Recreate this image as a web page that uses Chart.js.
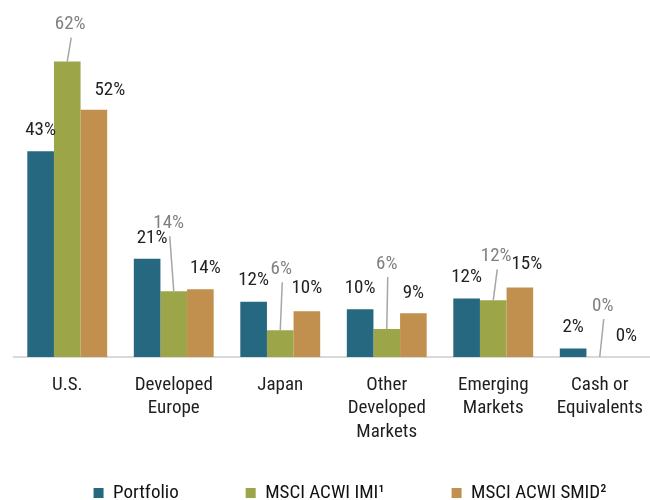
<!DOCTYPE html>
<html>
<head>
<meta charset="utf-8">
<script src="https://cdn.jsdelivr.net/npm/chart.js@4"></script>
<style>
  html, body { margin:0; padding:0; background:#fff; overflow:hidden; }
  #wrap { width:650px; height:500px; overflow:hidden; }
</style>
</head>
<body>
<div id="wrap"><canvas id="chart" width="700" height="540"></canvas></div>
<script>
// ----------------- DATA -----------------
const categories = [
  ['U.S.'],
  ['Developed', 'Europe'],
  ['Japan'],
  ['Other', 'Developed', 'Markets'],
  ['Emerging', 'Markets'],
  ['Cash or', 'Equivalents']
];
const seriesNames = ['Portfolio', 'MSCI ACWI IMI¹', 'MSCI ACWI SMID²'];
const portfolio = [43.2, 20.6, 11.6, 10.0, 12.3, 1.8];
const acwiImi   = [62.0, 13.8, 5.6, 5.9, 11.9, 0];
const acwiSmid  = [51.9, 14.2, 9.6, 9.2, 14.6, 0];
// ----------------------------------------

// condensed Roboto stands in for the narrow font of the original
const FAMILY = 'Roboto';
const STRETCH = 'condensed';
const FSIZE = 19;
const colors = ['#25687f', '#9ca649', '#c1904f'];

// label placement (px): how far above the bar top, and sideways nudge
const labelStyle = [
  { color:'#222', rise:[21,21,21,21,21,21], dx:[0,5,0,0,0,0] },
  { color:'#7f7f7f', rise:[37,68,61,65,44,51], dx:[3,-5,1,0,3,3], leader:true },
  { color:'#222', rise:[19,21,23,20,23,21], dx:[16,5,0,0,7,0] }
];
const LEGEND_LIFT = 27.5;

const labelPlugin = {
  id: 'valueLabels',
  afterDatasetsDraw(chart){
    const ctx = chart.ctx;
    ctx.save();
    ctx.font = `${STRETCH} ${FSIZE}px ${FAMILY}`;
    ctx.textAlign = 'center';
    ctx.textBaseline = 'middle';
    chart.data.datasets.forEach((ds, d) => {
      const meta = chart.getDatasetMeta(d);
      const st = labelStyle[d];
      meta.data.forEach((bar, i) => {
        const tx = bar.x + st.dx[i];
        const ty = bar.y - st.rise[i];
        if(st.leader){
          ctx.strokeStyle = '#a6a6a6';
          ctx.lineWidth = 1.5;
          ctx.beginPath();
          ctx.moveTo(tx + 1, ty + 13);
          ctx.lineTo(bar.x, bar.y);
          ctx.stroke();
        }
        ctx.fillStyle = st.color;
        ctx.fillText(Math.round(ds.data[i]) + '%', tx, ty);
      });
    });
    ctx.restore();
  }
};

// legend sits a little higher than its layout box
const legendLift = {
  id: 'legendLift',
  afterLayout(chart){
    chart.legend.top -= LEGEND_LIFT;
    chart.legend.bottom -= LEGEND_LIFT;
  }
};

function makeChart(){
  const ctx = document.getElementById('chart').getContext('2d');
  const font = { family: FAMILY, weight: STRETCH, size: FSIZE };
  new Chart(ctx, {
    type: 'bar',
    data: {
      labels: categories,
      datasets: [portfolio, acwiImi, acwiSmid].map((vals, k) => ({
        label: seriesNames[k],
        data: vals,
        backgroundColor: colors[k],
        borderWidth: 0,
        categoryPercentage: 0.75,
        barPercentage: 1
      }))
    },
    options: {
      responsive: false,
      animation: false,
      devicePixelRatio: 1,
      layout: { padding: { top: 23.5, left: 0, right: 0, bottom: 0 } },
      plugins: {
        tooltip: { enabled: false },
        legend: {
          position: 'bottom',
          labels: {
            boxWidth: 10, boxHeight: 10, padding: 67,
            color: '#111',
            font: font
          }
        }
      },
      scales: {
        x: {
          grid: { display: false },
          border: { display: true, color: '#d9d9d9', width: 2 },
          ticks: {
            color: '#1f1f1f', padding: 8,
            font: { ...font, lineHeight: 1.24 },
            maxRotation: 0, autoSkip: false
          },
          afterFit(scale){ scale.height = 87; }
        },
        y: {
          min: 0, max: 70,
          grid: { display: false }, border: { display: false },
          ticks: { display: false },
          afterFit(scale){ scale.width = 14; }
        },
        yRight: {
          position: 'right', min: 0, max: 70,
          grid: { display: false }, border: { display: false },
          ticks: { display: false },
          afterFit(scale){ scale.width = 47; }
        }
      }
    },
    plugins: [labelPlugin, legendLift]
  });
}

window.addEventListener('load', makeChart);
</script>
</body>
</html>
